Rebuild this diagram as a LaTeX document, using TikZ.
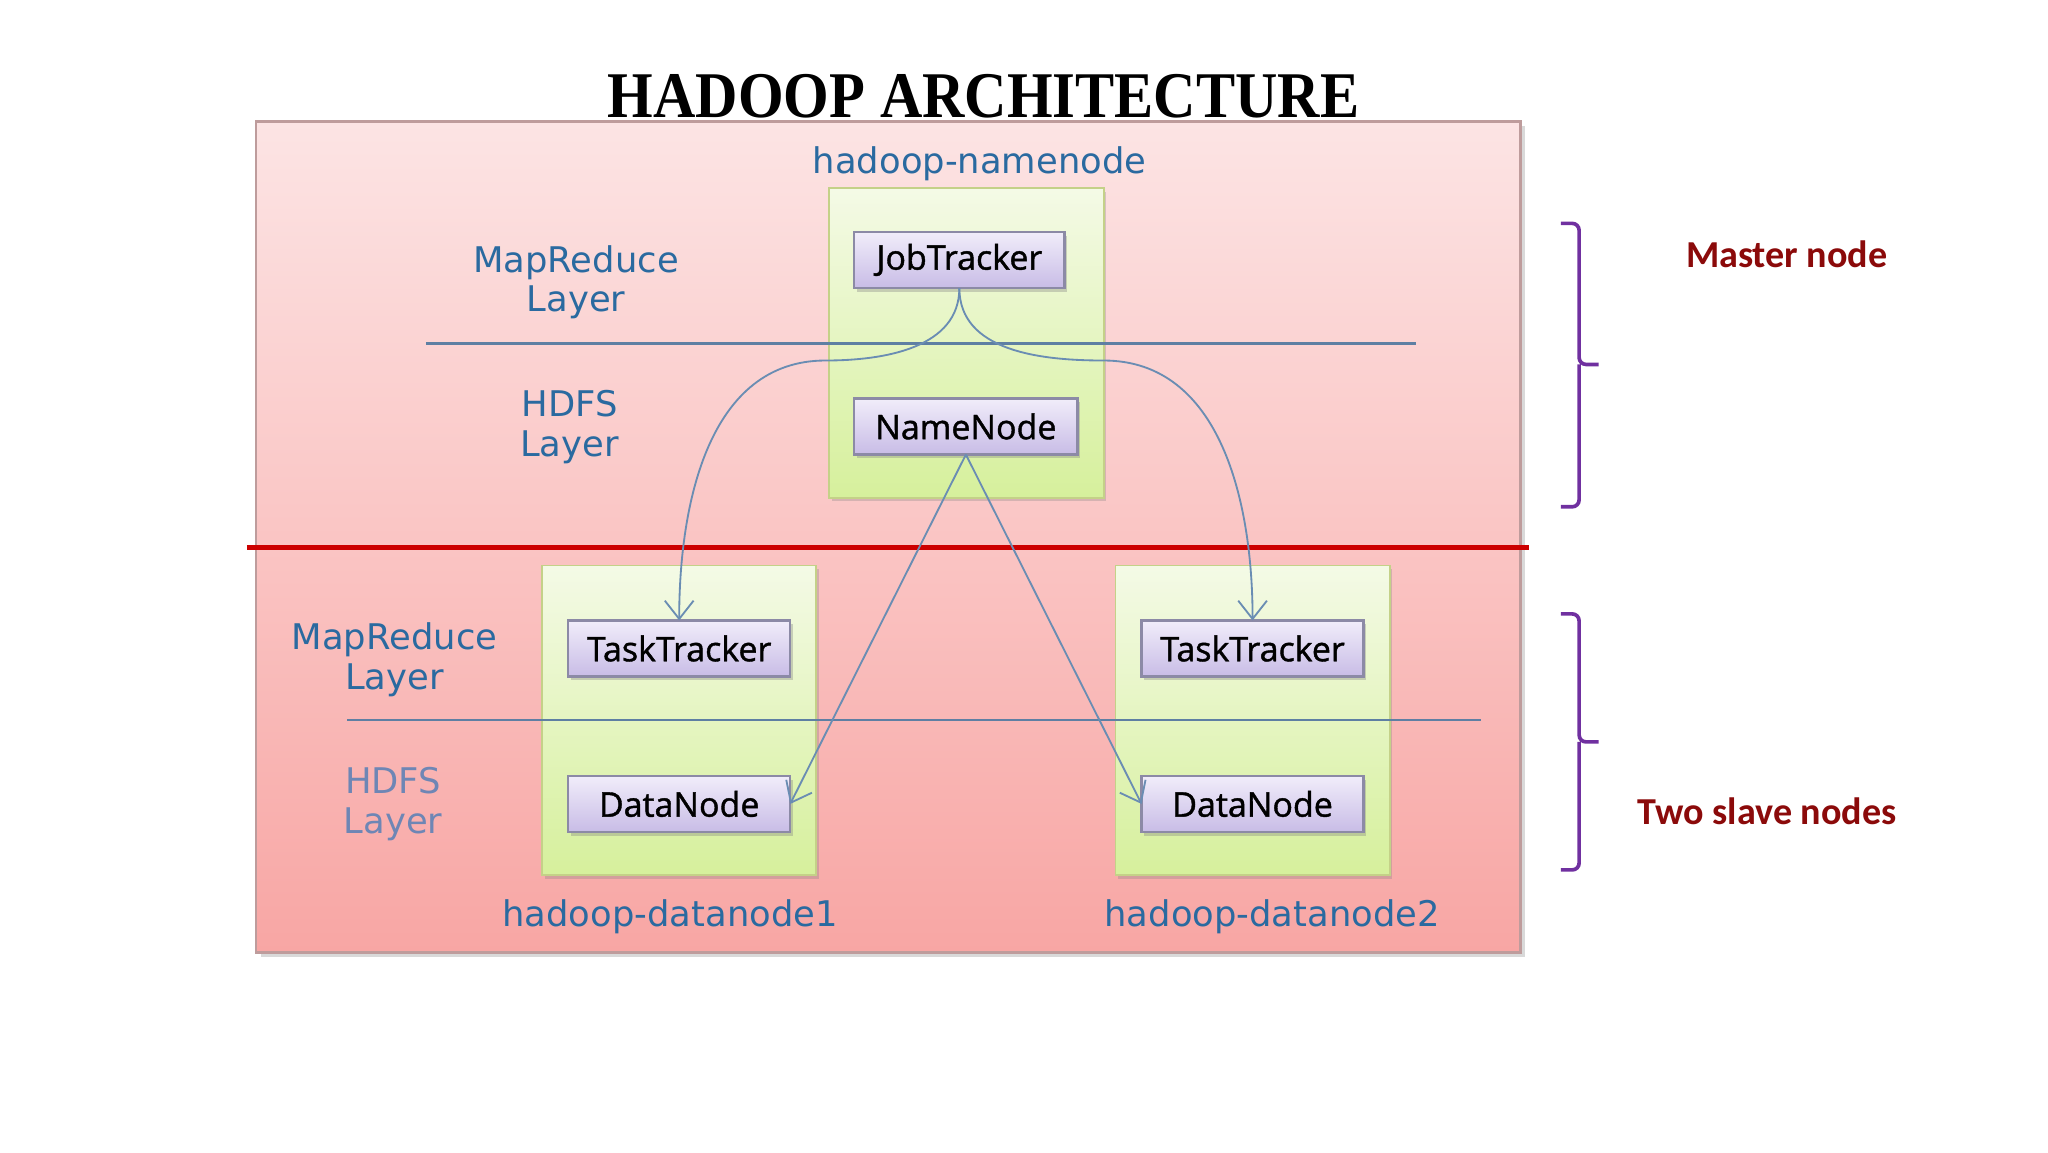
\documentclass[tikz,border=0pt]{standalone}
\usepackage{fontspec}
\usetikzlibrary{arrows.meta,positioning,shadows}
\newfontfamily\titlefont{Liberation Serif}
\newfontfamily\labelfont{DejaVu Sans}
\newfontfamily\daemonfont[FakeBold=1.2]{Open Sans}
\newfontfamily\notefont{Carlito}
\definecolor{pinktop}{HTML}{FCE4E4}
\definecolor{pinkbot}{HTML}{F8A6A4}
\definecolor{clusterline}{HTML}{BE9C9C}
\definecolor{greentop}{HTML}{F4FAE6}
\definecolor{greenbot}{HTML}{D6F09C}
\definecolor{hostline}{HTML}{C4D188}
\definecolor{lavtop}{HTML}{F1EDFA}
\definecolor{lavbot}{HTML}{C8BCE6}
\definecolor{daemonline}{HTML}{8C8AA6}
\definecolor{hadoopblue}{HTML}{2A6AA0}
\definecolor{fadedblue}{HTML}{6E86B5}
\definecolor{divline}{HTML}{5E7FA3}
\definecolor{linkcol}{HTML}{6A8DB3}
\definecolor{brkpurple}{HTML}{7030A0}
\definecolor{notered}{HTML}{8B0A0A}
\definecolor{splitred}{HTML}{CC0000}

\begin{document}
\begin{tikzpicture}[>={Straight Barb[length=1.4mm,width=2.2mm]},
	every node/.style={inner sep=0pt, outer sep=0pt},
	host/.style={draw=hostline, top color=greentop, bottom color=greenbot, minimum width=2.1cm, minimum height=2.37cm,
		drop shadow={shadow xshift=0.6pt, shadow yshift=-0.8pt, opacity=0.3}},
	daemon/.style={draw=daemonline, line width=0.5pt, top color=lavtop, bottom color=lavbot, minimum width=1.7cm, minimum height=0.43cm,
		font=\daemonfont\fontsize{7.4}{8}\selectfont, drop shadow={shadow xshift=0.6pt, shadow yshift=-0.8pt, opacity=0.35}},
	layer/.style={align=center, text=hadoopblue, font=\labelfont\fontsize{7.7}{8.6}\selectfont},
	divider/.style={draw=divline, line width=0.5pt},
	link/.style={draw=linkcol, line width=0.4pt, ->},
	brk/.style={draw=brkpurple, line width=0.8pt, rounded corners=1.5pt},
	note/.style={text=notered, font=\notefont\bfseries\fontsize{8.3}{10}\selectfont}]
	\useasboundingbox (0,0) rectangle (15.68,-8.82);
	\node[draw=clusterline, line width=0.6pt, top color=pinktop, bottom color=pinkbot, minimum width=9.68cm, minimum height=6.36cm,
		drop shadow={shadow xshift=1pt, shadow yshift=-1pt, opacity=0.3}] (cluster) at (6.80,-4.11) {};
	\node[font=\titlefont\bfseries\fontsize{14.2}{16}\selectfont, xscale=0.9, anchor=base] (title) at (7.53,-0.90) {HADOOP ARCHITECTURE};
	\draw[splitred, line width=1.2pt] (1.89,-4.19) -- (11.71,-4.19);
	\node[host] (master) at (7.40,-2.625) {};
	\node[layer] (mastername) at (7.50,-1.25) {hadoop-namenode};
	\foreach \i/\x in {1/5.20, 2/9.59} {
		\node[host] (host\i) at (\x,-5.515) {};
	}
	\node[layer] (hostname1) at (5.13,-7.02) {hadoop-datanode1};
	\node[layer] (hostname2) at (9.74,-7.02) {hadoop-datanode2};
	\draw[divider] (3.26,-2.63) -- (10.84,-2.63);
	\draw[divider] (2.66,-5.51) -- (11.34,-5.51);
	\node[layer] (mrtop) at (4.41,-2.16) {MapReduce\\Layer};
	\node[layer] (hdfstop) at (4.36,-3.27) {HDFS\\Layer};
	\node[layer] (mrbot) at (3.02,-5.05) {MapReduce\\Layer};
	\node[layer, text=fadedblue] (hdfsbot) at (3.01,-6.155) {HDFS\\Layer};
	\node[daemon, minimum width=1.61cm] (jt) at (7.345,-1.99) {JobTracker};
	\node[daemon, minimum width=1.71cm] (nn) at (7.395,-3.265) {NameNode};
	\foreach \i/\x in {1/5.20, 2/9.59} {
		\node[daemon] (tt\i) at (\x,-4.965) {TaskTracker};
		\node[daemon] (dn\i) at (\x,-6.155) {DataNode};
	}
	\draw[link] (jt.south) to[out=-90, in=0] (6.32,-2.76) to[out=180, in=90] (tt1.north);
	\draw[link] (jt.south) to[out=-90, in=180] (8.45,-2.76) to[out=0, in=90] (tt2.north);
	\draw[link] (nn.south) -- (dn1.east);
	\draw[link] (nn.south) -- (dn2.west);
	\draw[brk] (11.95,-1.71) -- (12.09,-1.71) -- (12.09,-2.79) -- (12.24,-2.79) (12.09,-2.79) -- (12.09,-3.88) -- (11.95,-3.88);
	\draw[brk] (11.95,-4.70) -- (12.09,-4.70) -- (12.09,-5.68) -- (12.24,-5.68) (12.09,-5.68) -- (12.09,-6.66) -- (11.95,-6.66);
	\node[note] (masternote) at (13.68,-1.95) {Master node};
	\node[note] (slavenote) at (13.53,-6.21) {Two slave nodes};
\end{tikzpicture}
\end{document}
